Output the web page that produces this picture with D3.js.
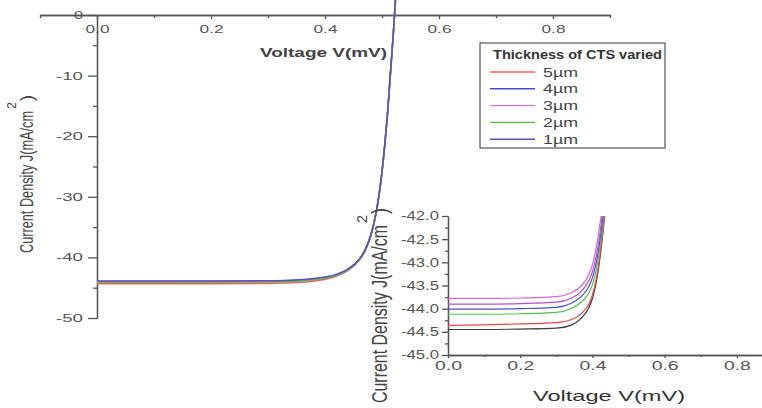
<!DOCTYPE html>
<html>
<head>
<meta charset="utf-8">
<script src="https://cdn.jsdelivr.net/npm/d3@7"></script>
<style>
  body { margin: 0; background: #fff; }
  svg { display: block; font-family: "Liberation Sans", Arial, sans-serif; }
</style>
</head>
<body>
<svg id="chart"></svg>
<script>
/* J-V curves for CTS absorber thickness, full sweep plus zoomed inset */
const width = 762
const height = 408

// full sweep (main plot)
const voltMain = [0.0, 0.1, 0.2, 0.3, 0.35, 0.40, 0.42, 0.44, 0.46, 0.47, 0.48, 0.49, 0.50, 0.51, 0.52, 0.53]
const j5um = [-44.35, -44.35, -44.34, -44.30, -44.15, -43.60, -43.10, -42.20, -40.50, -39.00, -36.60, -32.60, -26.00, -16.00, -3.00, 12.0]
const j4um = [-44.00, -44.00, -43.99, -43.95, -43.82, -43.35, -42.90, -42.05, -40.40, -38.90, -36.50, -32.50, -25.90, -15.90, -2.90, 12.0]
const j3um = [-43.95, -43.95, -43.94, -43.90, -43.78, -43.30, -42.85, -42.00, -40.35, -38.85, -36.45, -32.45, -25.85, -15.85, -2.85, 12.0]
const j2um = [-44.10, -44.10, -44.09, -44.05, -43.92, -43.45, -42.95, -42.10, -40.45, -38.95, -36.55, -32.55, -25.95, -15.95, -2.95, 12.0]
const j1um = [-43.90, -43.90, -43.89, -43.85, -43.72, -43.25, -42.80, -41.95, -40.30, -38.80, -36.40, -32.40, -25.80, -15.80, -2.80, 12.0]
const legendNames = ['5µm', '4µm', '3µm', '2µm', '1µm']
const mainColors = ['#ff5c5c', '#4b4bd2', '#e070e0', '#52c052', '#5a4ec4']
const mainSeries = [j5um, j4um, j3um, j2um, j1um]

// zoomed region (inset)
const voltInset = [0.0, 0.1, 0.2, 0.3, 0.34, 0.37, 0.39, 0.40, 0.41, 0.42, 0.43, 0.44, 0.45]
const jInA = [-43.78, -43.78, -43.77, -43.74, -43.66, -43.50, -43.27, -43.05, -42.70, -42.22, -41.60, -40.90, -40.00]
const jInB = [-43.90, -43.90, -43.89, -43.86, -43.78, -43.62, -43.40, -43.20, -42.88, -42.42, -41.80, -41.10, -40.20]
const jInC = [-44.01, -44.01, -44.00, -43.97, -43.89, -43.73, -43.52, -43.33, -43.02, -42.57, -41.95, -41.25, -40.40]
const jInD = [-44.12, -44.12, -44.11, -44.08, -44.00, -43.85, -43.66, -43.48, -43.18, -42.74, -42.12, -41.40, -40.50]
const jInE = [-44.36, -44.35, -44.33, -44.30, -44.24, -44.10, -43.90, -43.70, -43.38, -42.90, -42.25, -41.50, -40.60]
const jInF = [-44.45, -44.45, -44.44, -44.42, -44.36, -44.20, -43.98, -43.78, -43.45, -42.95, -42.28, -41.55, -40.70]
const insetSeries = [jInF, jInE, jInD, jInC, jInB, jInA]
const insetColors = ['#3c3c3c', '#f04646', '#52c052', '#4e4ed8', '#b452cc', '#d866d8']

const mainXTicks = [0.0, 0.2, 0.4, 0.6, 0.8]
const mainXMinor = [-0.1, 0.1, 0.3, 0.5, 0.7, 0.9]
const mainYTicks = [0, -10, -20, -30, -40, -50]
const mainYMinor = [-5, -15, -25, -35, -45]
const insetXTicks = [0.0, 0.2, 0.4, 0.6, 0.8]
const insetXMinor = [0.1, 0.3, 0.5, 0.7]
const insetYTicks = [-42.0, -42.5, -43.0, -43.5, -44.0, -44.5, -45.0]
const insetYMinor = [-42.25, -42.75, -43.25, -43.75, -44.25, -44.75]

const axisColor = '#555'

const chart = d3.select('#chart')
    .attr('width', width)
    .attr('height', height)

function stretchTicks(g, perChar, size) {
    g.selectAll('text')
        .attr('font-size', size)
        .attr('fill', '#555')
        .attr('textLength', function () { return this.textContent.length * perChar })
        .attr('lengthAdjust', 'spacingAndGlyphs')
}

function styleAxis(g) {
    g.attr('font-family', null)
    g.select('.domain').attr('stroke', axisColor).attr('stroke-width', 1.3)
    g.selectAll('line').attr('stroke', axisColor).attr('stroke-width', 1.3)
}

function drawCurves(g, volts, seriesList, colors, xs, ys, w) {
    const line = d3.line()
        .x((d, i) => xs(volts[i]))
        .y(d => ys(d))
        .curve(d3.curveMonotoneX)
    seriesList.forEach((s, k) => {
        g.append('path')
            .datum(s)
            .attr('fill', 'none')
            .attr('stroke', colors[k])
            .attr('stroke-width', w)
            .attr('d', line)
    })
}

// rotated axis title with a raised "2" before the closing bracket
function vertLabel(x, y, main, len, size, sup) {
    const g = chart.append('g')
        .attr('transform', `translate(${x},${y}) rotate(-90)`)
        .attr('fill', '#444')
    g.append('text')
        .attr('font-size', size)
        .attr('textLength', len)
        .attr('lengthAdjust', 'spacingAndGlyphs')
        .text(main)
    g.append('text')
        .attr('x', len + sup.dx)
        .attr('y', sup.dy)
        .attr('font-size', sup.size)
        .attr('textLength', sup.w)
        .attr('lengthAdjust', 'spacingAndGlyphs')
        .text('2')
    g.append('text')
        .attr('x', len + sup.dx + sup.w + 1)
        .attr('font-size', size)
        .attr('textLength', 6)
        .attr('lengthAdjust', 'spacingAndGlyphs')
        .text(')')
}

// ---------- main plot ----------
const xMain = d3.scaleLinear().domain([-0.1, 0.9]).range([40, 610])
const yMain = d3.scaleLinear().domain([-50, 0]).range([318, 15])

chart.append('g')
    .attr('transform', `translate(0,${yMain(0)})`)
    .call(d3.axisBottom(xMain).tickValues(mainXMinor).tickSize(3).tickSizeOuter(0).tickFormat(''))
    .call(styleAxis)
chart.append('g')
    .attr('transform', `translate(0,${yMain(0)})`)
    .call(d3.axisBottom(xMain).tickValues(mainXTicks).tickSize(4).tickSizeOuter(0).tickPadding(6)
        .tickFormat(d => d.toFixed(1)))
    .call(styleAxis)
    .call(g => stretchTicks(g, 8, 11))

chart.append('g')
    .attr('transform', `translate(${xMain(0)},0)`)
    .call(d3.axisLeft(yMain).tickValues(mainYMinor).tickSize(4).tickSizeOuter(0).tickFormat(''))
    .call(styleAxis)
chart.append('g')
    .attr('transform', `translate(${xMain(0)},0)`)
    .call(d3.axisLeft(yMain).tickValues(mainYTicks).tickSize(9).tickSizeOuter(0).tickPadding(5)
        .tickFormat(d => String(d)))
    .call(styleAxis)
    .call(g => stretchTicks(g, 9, 11))

chart.append('text')
    .attr('x', 260).attr('y', 57)
    .attr('font-size', 12).attr('font-weight', 'bold').attr('fill', '#444')
    .attr('textLength', 127).attr('lengthAdjust', 'spacingAndGlyphs')
    .text('Voltage V(mV)')

vertLabel(33, 253, 'Current Density J(mA/cm', 142, 19, { dx: 2, dy: -17, size: 13, w: 7 })

drawCurves(chart.append('g'), voltMain, mainSeries, mainColors, xMain, yMain, 1.5)

// legend
const legend = chart.append('g')
legend.append('rect')
    .attr('x', 480).attr('y', 43).attr('width', 185).attr('height', 105)
    .attr('fill', '#fff').attr('stroke', '#555').attr('stroke-width', 1.2)
legend.append('text')
    .attr('x', 493).attr('y', 59)
    .attr('font-size', 13).attr('font-weight', 'bold').attr('fill', '#333')
    .attr('textLength', 169).attr('lengthAdjust', 'spacingAndGlyphs')
    .text('Thickness of CTS varied')
legendNames.forEach((name, i) => {
    const ly = 72 + i * 16.8
    legend.append('line')
        .attr('x1', 490).attr('x2', 535).attr('y1', ly).attr('y2', ly)
        .attr('stroke', mainColors[i]).attr('stroke-width', 1.4)
    legend.append('text')
        .attr('x', 543).attr('y', ly + 4.5)
        .attr('font-size', 12).attr('fill', '#444')
        .attr('textLength', 35).attr('lengthAdjust', 'spacingAndGlyphs')
        .text(name)
})

// ---------- inset ----------
const xIn = d3.scaleLinear().domain([0, 0.9]).range([448, 773])
const yIn = d3.scaleLinear().domain([-45, -42]).range([355, 216])

chart.append('defs').append('clipPath').attr('id', 'insetClip')
    .append('rect')
    .attr('x', xIn(0)).attr('y', yIn(-42))
    .attr('width', xIn(0.9) - xIn(0)).attr('height', yIn(-45) - yIn(-42))

chart.append('g')
    .attr('transform', `translate(0,${yIn(-45)})`)
    .call(d3.axisBottom(xIn).tickValues(insetXMinor).tickSize(2).tickSizeOuter(0).tickFormat(''))
    .call(styleAxis)
chart.append('g')
    .attr('transform', `translate(0,${yIn(-45)})`)
    .call(d3.axisBottom(xIn).tickValues(insetXTicks).tickSize(3).tickSizeOuter(0).tickPadding(3)
        .tickFormat(d => d.toFixed(1)))
    .call(styleAxis)
    .call(g => stretchTicks(g, 9, 12))

chart.append('g')
    .attr('transform', `translate(${xIn(0)},0)`)
    .call(d3.axisLeft(yIn).tickValues(insetYMinor).tickSize(3).tickSizeOuter(0).tickFormat(''))
    .call(styleAxis)
chart.append('g')
    .attr('transform', `translate(${xIn(0)},0)`)
    .call(d3.axisLeft(yIn).tickValues(insetYTicks).tickSize(6).tickSizeOuter(0).tickPadding(3)
        .tickFormat(d => d.toFixed(1)))
    .call(styleAxis)
    .call(g => stretchTicks(g, 7.6, 12))

drawCurves(chart.append('g').attr('clip-path', 'url(#insetClip)'),
    voltInset, insetSeries, insetColors, xIn, yIn, 1.2)

chart.append('text')
    .attr('x', 533).attr('y', 401)
    .attr('font-size', 15).attr('fill', '#333')
    .attr('textLength', 152).attr('lengthAdjust', 'spacingAndGlyphs')
    .text('Voltage V(mV)')

vertLabel(387, 403, 'Current Density J(mA/cm', 178, 22, { dx: 2, dy: -20, size: 15, w: 8 })
</script>
</body>
</html>
